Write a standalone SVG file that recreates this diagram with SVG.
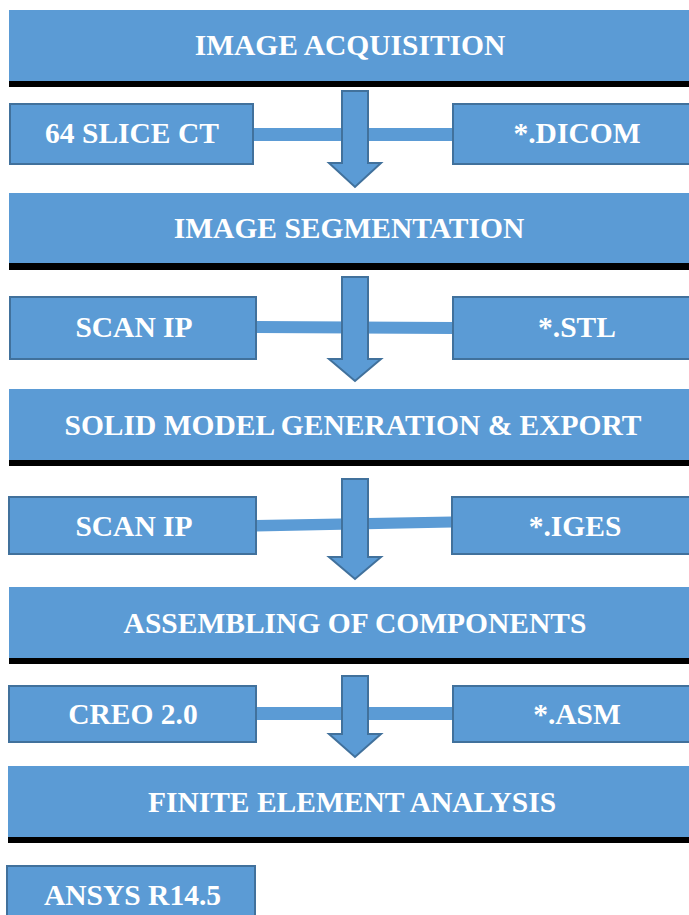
<svg xmlns="http://www.w3.org/2000/svg" width="689" height="915" viewBox="0 0 689 915">
<style>
.band{fill:#5B9BD5}
.bar{fill:#000}
.box{fill:#5B9BD5;stroke:#41719C;stroke-width:2}
.arr{fill:#5B9BD5;stroke:#41719C;stroke-width:2;stroke-linejoin:miter}
.con{fill:#5B9BD5}
text{font-family:"Liberation Serif","Times New Roman",serif;font-weight:bold;font-size:29.5px;fill:#fff;text-anchor:middle}
</style>
<rect width="689" height="915" fill="#fff"/>
<g id="connectors">
<rect class="con" x="253" y="128" width="200" height="13"/>
<polygon class="con" points="256,321 453,322 453,334 256,333"/>
<polygon class="con" points="256,520 452,516.5 452,527.5 256,531.5"/>
<rect class="con" x="256" y="707" width="197" height="13"/>
<polygon class="arr" points="342,91 368,91 368,163 381,163 355,187 329,163 342,163"/>
<polygon class="arr" points="342,277 368,277 368,359 381,359 355,381 329,359 342,359"/>
<polygon class="arr" points="342,479 368,479 368,557 381,557 355,579 329,557 342,557"/>
<polygon class="arr" points="342,676 368,676 368,734 381,734 355,757 329,734 342,734"/>
</g>
<g id="image-acquisition">
<rect class="band" x="9" y="10" width="682" height="71"/>
<rect class="bar" x="9" y="81" width="682" height="6"/>
<text x="350" y="55">IMAGE ACQUISITION</text>
</g>
<g id="slice-ct">
<rect class="box" x="10" y="104" width="243" height="60"/>
<text x="132" y="143">64 SLICE CT</text>
</g>
<g id="dicom">
<rect class="box" x="453" y="104" width="248" height="60"/>
<text x="577" y="143">*.DICOM</text>
</g>
<g id="image-segmentation">
<rect class="band" x="9" y="193" width="682" height="70"/>
<rect class="bar" x="9" y="263" width="682" height="7"/>
<text x="349" y="238">IMAGE SEGMENTATION</text>
</g>
<g id="scanip-1">
<rect class="box" x="10" y="297" width="246" height="62"/>
<text x="134" y="337">SCAN IP</text>
</g>
<g id="stl">
<rect class="box" x="453" y="297" width="248" height="62"/>
<text x="577" y="337">*.STL</text>
</g>
<g id="solid-model">
<rect class="band" x="9" y="389" width="682" height="71"/>
<rect class="bar" x="9" y="460" width="682" height="6"/>
<text x="353" y="434.5">SOLID MODEL GENERATION &amp; EXPORT</text>
</g>
<g id="scanip-2">
<rect class="box" x="9" y="497" width="247" height="57"/>
<text x="134" y="536">SCAN IP</text>
</g>
<g id="iges">
<rect class="box" x="452" y="497" width="249" height="57"/>
<text x="575" y="536">*.IGES</text>
</g>
<g id="assembling">
<rect class="band" x="9" y="587" width="682" height="71"/>
<rect class="bar" x="9" y="658" width="682" height="6"/>
<text x="355" y="632.5">ASSEMBLING OF COMPONENTS</text>
</g>
<g id="creo">
<rect class="box" x="9" y="686" width="247" height="56"/>
<text x="133" y="724">CREO 2.0</text>
</g>
<g id="asm">
<rect class="box" x="453" y="686" width="248" height="56"/>
<text x="577" y="724">*.ASM</text>
</g>
<g id="fea">
<rect class="band" x="8" y="766" width="683" height="71"/>
<rect class="bar" x="8" y="837" width="683" height="6"/>
<text x="352" y="811.5">FINITE ELEMENT ANALYSIS</text>
</g>
<g id="ansys">
<rect class="box" x="7" y="866" width="248" height="60"/>
<text x="132.5" y="905">ANSYS R14.5</text>
</g>
</svg>
